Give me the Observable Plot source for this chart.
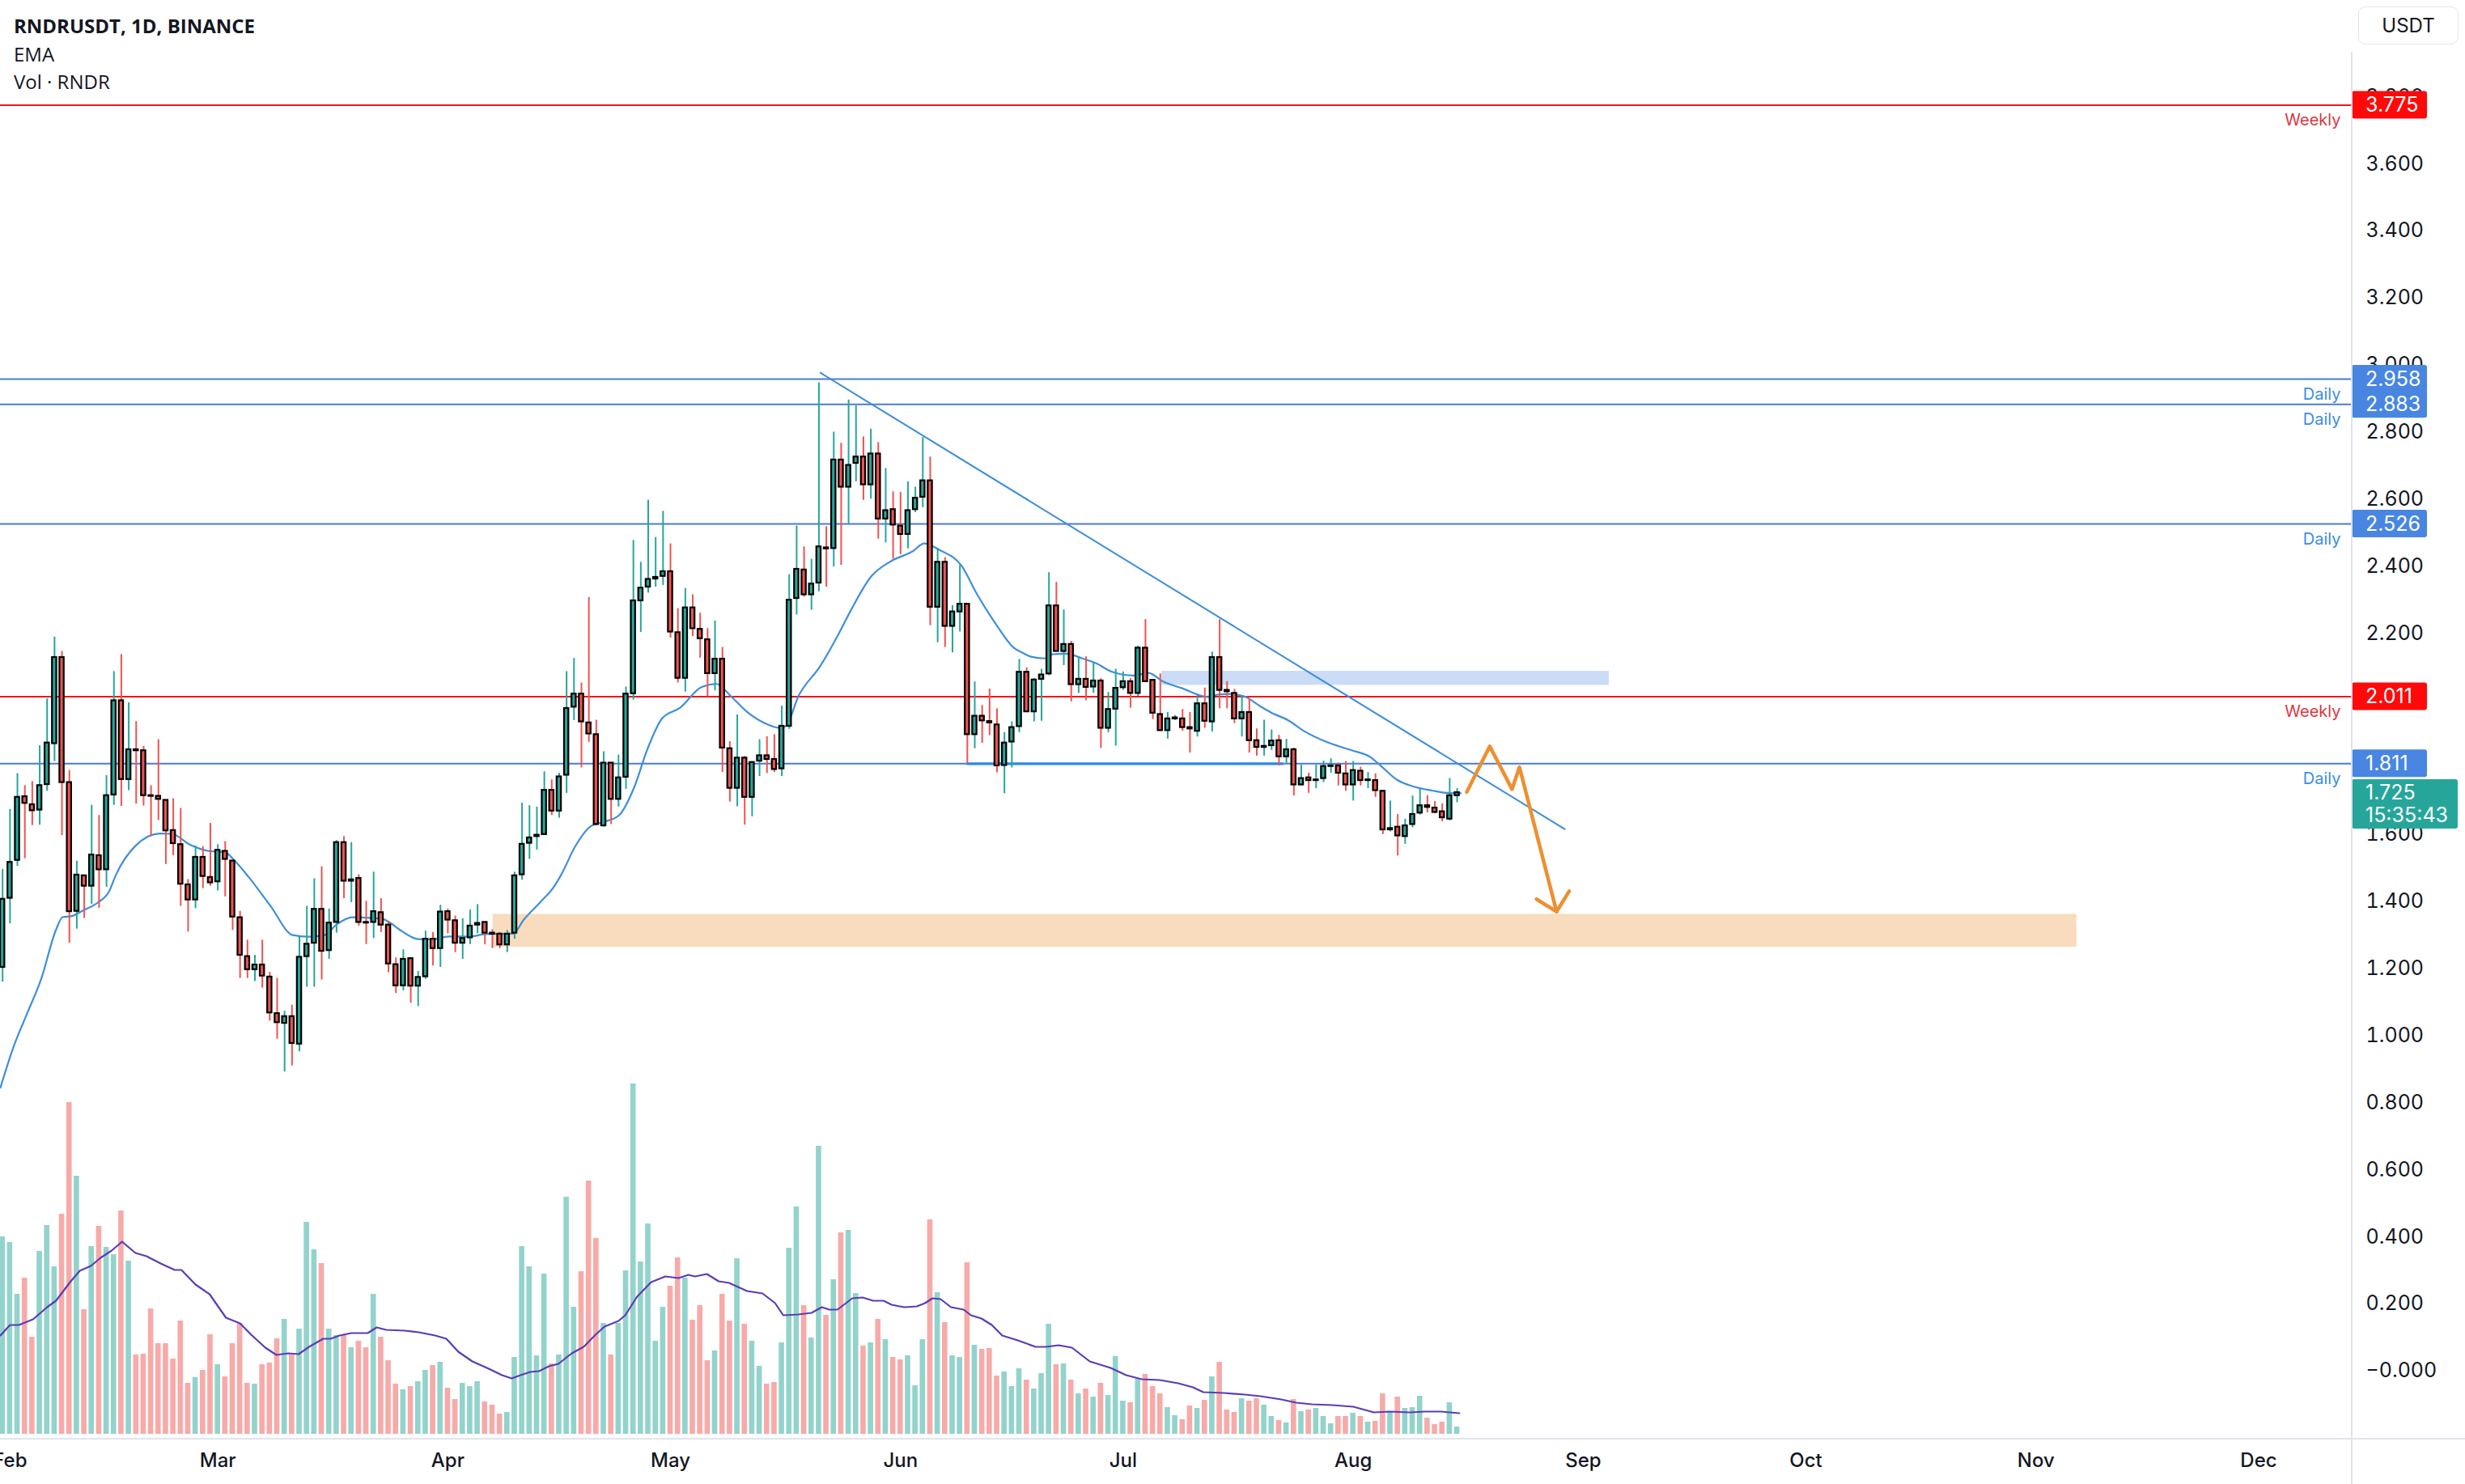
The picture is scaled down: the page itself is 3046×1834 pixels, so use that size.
<!DOCTYPE html>
<html><head><meta charset="utf-8">
<script src="https://cdn.jsdelivr.net/npm/d3@7"></script>
<script src="https://cdn.jsdelivr.net/npm/@observablehq/plot@0.6"></script>
<style>
html,body{margin:0;padding:0;background:#fff;}
#wrap{position:relative;width:3046px;height:1834px;overflow:hidden;background:#fff;}
#wrap svg{position:absolute;left:0;top:0;}
.hdr{position:absolute;left:17px;color:#131722;font-family:"Open Sans",sans-serif;font-size:24px;line-height:1;white-space:nowrap;}
.sep{position:absolute;background:#e0e3eb;}
#usdt{position:absolute;left:2914px;top:8px;width:122px;height:45px;border:1.5px solid #e3e5ea;border-radius:9px;font-family:Inter,sans-serif;font-size:24px;color:#131722;display:flex;align-items:center;justify-content:center;}
</style></head><body>
<div id="wrap"></div>
<script>
// ---------------- DATA ----------------
const startDate = "2023-01-31"; // first daily candle, one candle per day
const open = [
1.204,1.410,1.523,1.713,1.689,1.673,1.749,1.871,2.128,1.755,
1.371,1.477,1.446,1.537,1.495,1.718,1.999,1.764,1.853,1.850,
1.716,1.714,1.702,1.612,1.570,1.450,1.405,1.532,1.472,1.459,
1.550,1.521,1.352,1.236,1.197,1.211,1.175,1.066,1.037,1.057,
0.975,1.236,1.276,1.377,1.254,1.338,1.576,1.461,1.469,1.338,
1.338,1.367,1.330,1.212,1.149,1.230,1.148,1.176,1.288,1.260,
1.370,1.343,1.276,1.292,1.330,1.338,1.306,1.303,1.271,1.306,
1.480,1.574,1.594,1.600,1.732,1.670,1.777,1.980,2.019,1.933,
1.898,1.626,1.813,1.705,1.771,2.020,2.297,2.338,2.362,2.370,
2.384,2.202,2.066,2.276,2.212,2.181,2.080,2.123,1.856,1.738,
1.828,1.711,1.819,1.835,1.824,1.796,1.923,2.304,2.389,2.315,
2.350,2.455,2.453,2.717,2.636,2.707,2.726,2.643,2.735,2.541,
2.569,2.520,2.495,2.569,2.606,2.655,2.278,2.412,2.221,2.264,
2.287,1.898,1.953,1.937,1.927,1.806,1.876,1.922,2.084,1.966,
2.063,2.079,2.282,2.146,2.167,2.047,2.063,2.040,2.058,1.917,
1.974,2.038,2.056,2.021,2.156,2.060,1.958,1.910,1.945,1.945,
1.919,1.908,1.990,1.936,2.128,2.030,2.021,1.945,1.964,1.880,
1.860,1.865,1.880,1.832,1.853,1.748,1.769,1.761,1.767,1.803,
1.805,1.781,1.748,1.789,1.761,1.761,1.729,1.614,1.622,1.594,
1.630,1.664,1.686,1.679,1.668,1.646,1.716];
const high = [
1.496,1.675,1.782,1.746,1.758,1.865,2.005,2.189,2.146,1.791,
1.521,1.477,1.687,1.657,1.776,2.086,2.137,1.993,1.937,1.863,
1.746,1.883,1.702,1.707,1.678,1.466,1.566,1.564,1.633,1.570,
1.579,1.521,1.371,1.285,1.240,1.285,1.189,1.171,1.073,1.091,
1.294,1.386,1.468,1.504,1.378,1.582,1.594,1.576,1.480,1.401,
1.488,1.409,1.341,1.232,1.256,1.230,1.192,1.312,1.308,1.389,
1.378,1.357,1.349,1.375,1.391,1.338,1.316,1.308,1.314,1.488,
1.694,1.686,1.682,1.787,1.763,1.783,2.086,2.125,2.052,2.307,
1.941,1.847,1.813,1.837,2.040,2.477,2.412,2.597,2.486,2.564,
2.467,2.274,2.334,2.315,2.260,2.214,2.237,2.158,1.877,1.957,
1.833,1.817,1.883,1.892,1.898,1.983,2.375,2.520,2.458,2.421,
2.947,2.518,2.800,2.767,2.896,2.878,2.786,2.809,2.769,2.692,
2.622,2.620,2.652,2.636,2.784,2.726,2.454,2.426,2.283,2.403,
2.287,2.055,1.985,2.034,1.975,1.904,1.936,2.122,2.097,2.065,
2.093,2.381,2.352,2.270,2.176,2.125,2.130,2.111,2.065,2.024,
2.093,2.085,2.065,2.162,2.241,2.060,2.079,1.964,1.955,1.973,
1.964,2.014,2.037,2.144,2.241,2.056,2.033,2.014,2.005,1.915,
1.941,1.912,1.896,1.884,1.858,1.807,1.783,1.807,1.819,1.826,
1.813,1.818,1.818,1.801,1.785,1.781,1.731,1.700,1.660,1.646,
1.715,1.735,1.716,1.698,1.692,1.767,1.737];
const low = [
1.160,1.334,1.505,1.528,1.627,1.628,1.729,1.818,1.597,1.276,
1.318,1.350,1.392,1.380,1.443,1.687,1.684,1.731,1.691,1.685,
1.595,1.642,1.511,1.537,1.386,1.309,1.379,1.439,1.446,1.432,
1.414,1.314,1.171,1.171,1.162,1.142,1.044,0.990,0.892,0.910,
0.952,1.145,1.145,1.166,1.228,1.306,1.409,1.397,1.327,1.272,
1.290,1.308,1.188,1.126,1.134,1.097,1.087,1.168,1.208,1.204,
1.304,1.248,1.228,1.272,1.304,1.271,1.260,1.260,1.248,1.288,
1.464,1.526,1.554,1.598,1.657,1.649,1.723,1.940,1.799,1.875,
1.626,1.622,1.630,1.682,1.735,2.001,2.203,2.320,2.338,2.343,
2.186,2.052,2.025,2.191,2.126,2.011,2.029,1.785,1.697,1.683,
1.628,1.653,1.773,1.782,1.785,1.773,1.914,2.255,2.308,2.269,
2.324,2.338,2.398,2.403,2.527,2.652,2.597,2.600,2.481,2.470,
2.421,2.435,2.452,2.560,2.575,2.223,2.172,2.158,2.142,2.204,
1.812,1.856,1.872,1.895,1.784,1.722,1.799,1.904,1.966,1.936,
1.938,2.074,2.146,2.104,1.996,2.021,1.999,2.021,1.857,1.904,
1.864,2.030,1.977,2.012,2.054,1.943,1.908,1.885,1.940,1.908,
1.843,1.891,1.917,1.906,1.975,1.975,1.931,1.891,1.843,1.834,
1.834,1.851,1.805,1.811,1.715,1.745,1.723,1.737,1.755,1.783,
1.745,1.729,1.700,1.745,1.737,1.711,1.600,1.608,1.536,1.571,
1.620,1.658,1.665,1.662,1.638,1.641,1.695];
const close = [
1.407,1.517,1.711,1.693,1.671,1.746,1.873,2.128,1.755,1.370,
1.479,1.446,1.539,1.495,1.716,1.999,1.764,1.853,1.850,1.716,
1.714,1.705,1.611,1.573,1.452,1.405,1.532,1.475,1.456,1.553,
1.526,1.354,1.240,1.197,1.211,1.178,1.068,1.039,1.057,0.977,
1.234,1.273,1.377,1.252,1.336,1.576,1.461,1.465,1.338,1.336,
1.370,1.330,1.214,1.149,1.228,1.148,1.174,1.288,1.260,1.369,
1.345,1.276,1.290,1.327,1.335,1.306,1.303,1.271,1.303,1.477,
1.571,1.590,1.598,1.732,1.670,1.772,1.976,2.019,1.936,1.900,
1.630,1.813,1.705,1.769,2.019,2.297,2.335,2.361,2.367,2.384,
2.204,2.066,2.276,2.214,2.184,2.080,2.123,1.858,1.738,1.828,
1.711,1.815,1.835,1.824,1.794,1.923,2.299,2.391,2.315,2.347,
2.458,2.452,2.717,2.636,2.701,2.726,2.643,2.735,2.541,2.566,
2.523,2.495,2.566,2.603,2.655,2.278,2.412,2.221,2.264,2.287,
1.898,1.953,1.939,1.933,1.805,1.873,1.919,2.084,1.966,2.061,
2.076,2.282,2.146,2.167,2.047,2.063,2.039,2.058,1.917,1.973,
2.036,2.056,2.021,2.156,2.056,1.962,1.910,1.945,1.948,1.919,
1.915,1.990,1.938,2.128,2.030,2.026,1.945,1.964,1.880,1.860,
1.863,1.879,1.832,1.853,1.748,1.767,1.761,1.763,1.803,1.805,
1.783,1.748,1.791,1.761,1.763,1.731,1.614,1.618,1.596,1.626,
1.660,1.686,1.681,1.666,1.650,1.716,1.725];
// volume (relative units)
const volume = [
24.4,23.7,17.3,19.3,12.0,22.6,25.8,20.7,27.2,41.0,
31.9,15.4,23.2,25.7,23.1,22.2,27.6,21.4,9.8,9.9,
15.5,11.2,11.2,9.3,14.0,6.3,7.0,7.9,12.3,8.6,
7.1,11.2,13.7,6.3,6.2,8.6,8.8,11.8,14.2,9.8,
13.0,26.2,22.8,21.1,13.0,12.2,12.2,10.7,11.5,10.7,
17.3,12.0,9.1,6.2,5.5,5.9,6.5,7.9,8.5,8.9,
5.7,4.3,6.3,5.9,6.5,4.0,3.6,2.5,2.7,9.5,
23.2,20.7,9.7,19.8,8.7,9.8,29.3,15.7,20.1,31.3,
24.2,13.7,9.8,13.7,20.2,43.3,21.3,26.0,11.5,15.7,
18.3,21.8,19.3,14.1,15.9,9.1,10.3,17.3,14.0,21.7,
13.6,11.5,8.4,6.2,6.4,11.3,23.0,28.1,15.9,11.9,
35.6,14.7,19.1,24.9,25.2,17.4,10.9,11.3,14.2,11.7,
9.5,9.2,9.7,6.0,11.7,26.5,17.5,13.8,9.7,9.5,
21.2,11.0,10.5,10.6,7.2,7.7,5.9,8.1,6.7,5.6,
7.5,13.6,8.6,8.7,6.7,5.0,5.6,4.6,6.3,4.8,
9.6,4.1,3.9,6.8,7.4,5.9,5.0,3.3,2.3,1.8,
3.5,3.2,4.2,7.1,8.9,3.0,2.7,4.4,4.1,4.4,
3.6,2.2,1.7,1.4,4.3,2.8,3.0,3.2,2.2,1.3,
2.2,2.2,2.6,2.2,1.5,1.6,5.0,2.7,4.6,3.2,
3.3,4.7,2.0,1.2,1.5,3.9,0.9];
// EMA line samples: day offset from startDate, value
const emaDay = [-0.29,1.5,3.3,5.2,7.2,8.1,9.2,10.9,12.9,14.3,15.3,17.9,21.2,22.8,25.2,28.1,29.9,31.3,33.2,36.1,39.1,41.2,43.3,45.1,47.1,51.1,52.2,53.5,56.0,57.9,60.1,63.0,65.1,68.8,70.2,72.4,74.2,75.3,77.1,79.3,81.1,83.1,85.1,86.9,88.9,91.3,94.2,96.2,98.2,100.4,103.2,104.6,105.5,107.3,110.2,112.7,114.2,117.1,119.7,122.6,124.2,126.2,129.2,131.3,133.8,136.2,137.7,138.6,140.4,141.3,143.3,145.5,147.3,149.5,152.4,154.4,156.4,159.3,161.5,162.4,163.7,165.5,167.3,169.5,170.9,173.2,175.4,178.5,181.8,184.3,185.8,187.9,190.1,192.6,194.7,196.5];
const emaValue = [0.845,0.968,1.066,1.169,1.316,1.354,1.356,1.374,1.398,1.428,1.481,1.566,1.603,1.602,1.570,1.550,1.548,1.521,1.472,1.387,1.300,1.295,1.299,1.333,1.353,1.349,1.337,1.316,1.288,1.287,1.296,1.296,1.303,1.304,1.345,1.397,1.441,1.481,1.562,1.625,1.638,1.658,1.740,1.855,1.947,1.978,2.040,2.049,2.011,1.964,1.927,1.918,1.923,2.015,2.103,2.200,2.264,2.371,2.415,2.444,2.468,2.449,2.402,2.317,2.229,2.158,2.139,2.130,2.125,2.137,2.139,2.125,2.111,2.085,2.074,2.082,2.056,2.033,2.014,2.010,2.017,2.019,2.012,1.982,1.964,1.941,1.908,1.875,1.851,1.831,1.803,1.763,1.743,1.731,1.724,1.723];
// Volume moving average samples
const volMaDay = [-0.3,1,2.2,4.1,6,7.2,9.1,10.4,11.9,13.2,14.7,16.1,17.9,19.4,21.3,23.2,24.1,26,27.9,30.1,32,33.5,35.4,36.9,38.5,39.9,41.3,43.2,44.2,45.4,47,49.2,50.4,51.7,54.2,56.1,58.3,59.8,61.4,63.3,65.5,67.3,68.6,69.8,71.1,72.3,73.6,74.9,76.7,78.3,79.9,81.1,83,83.9,85.5,87.4,89.3,91.1,92.4,93.3,94.9,96.5,97.9,100.3,102.4,104.1,105.2,107.2,109,110.4,111.4,112.5,114.5,115.9,117.3,118.7,119.8,121.5,123.2,124.3,125.3,126.4,127.8,129.5,130.5,131.9,133.3,134.7,136.8,139.2,140.6,142.3,144.1,146.5,149.3,151.4,153.5,155.9,158.4,160.4,161.8,164.6,167.4,169.5,172.3,174.3,176.4,179.2,182,184.8,186.9,189.6,191.7,193.8,196.3];
const volMaValue = [12.2,13.5,13.5,14.2,15.7,16.5,18.8,20.2,20.8,21.8,22.7,23.8,22.4,22.0,21.1,20.3,20.3,18.5,17.3,14.4,13.7,12.3,10.7,9.8,10.0,9.9,10.8,11.8,11.8,12.2,12.5,12.5,13.2,12.9,12.8,12.6,12.2,11.8,10.2,9.0,8.1,7.3,6.9,7.3,7.7,7.8,8.4,8.7,10.0,10.8,12.3,13.3,14.0,14.7,17.0,18.8,19.5,19.3,19.7,19.5,19.8,18.9,18.7,17.7,17.4,16.2,14.7,14.8,15.0,15.7,15.4,15.4,16.8,16.9,16.5,16.5,16.0,15.7,15.8,16.2,16.8,16.7,15.7,15.4,14.7,14.3,13.5,12.2,11.6,10.8,10.8,11.0,10.7,9.0,8.2,7.3,6.8,6.7,6.3,5.8,5.2,5.1,4.9,4.7,4.3,3.9,3.7,3.6,3.4,2.7,2.8,2.7,2.8,2.8,2.6];
// Horizontal levels
const levelValue = [3.775, 2.958, 2.883, 2.526, 2.011, 1.811];
const levelTimeframe = ["Weekly","Daily","Daily","Daily","Weekly","Daily"];
// Zones (day offsets and prices)
const zoneFrom = [66.1, 156.2];
const zoneTo = [279.5, 216.5];
const zoneLow = [1.264, 2.045];
const zoneHigh = [1.362, 2.087];
// Drawn lines: descending trendline, flat support, projected path, arrow head
const trendDay = [110.2, 210.5], trendValue = [2.977, 1.616];
const supportDay = [130.0, 172.5], supportValue = [1.811, 1.811];
const pathDay = [197.3, 200.4, 203.4, 204.4, 209.4], pathValue = [1.727, 1.863, 1.735, 1.801, 1.370];
const headDay = [206.7, 209.4, 211.1], headValue = [1.407, 1.370, 1.431];
// Axis ticks (2.000 and 1.800 sit fully behind the level boxes and are not shown)
const priceTicks = [0,0.2,0.4,0.6,0.8,1.0,1.2,1.4,1.6,2.2,2.4,2.6,2.8,3.0,3.2,3.4,3.6,3.8];
const monthTicks = ["2023-02-01","2023-03-01","2023-04-01","2023-05-01","2023-06-01","2023-07-01","2023-08-01","2023-09-01","2023-10-01","2023-11-01","2023-12-01"];
const lastPrice = 1.725, countdown = "15:35:43";

// ---------------- CHART ----------------
const FONT = "Inter, 'Noto Sans', sans-serif";
const W = 3046, H = 1834, AXIS_X = 2906, AXIS_Y = 1778, VOL_BASE = 1772;
const DAY = 86400000;
const base = Date.parse(startDate + "T00:00:00Z");
const day = i => new Date(base + i * DAY);
const xDomain = [day(-0.294), day(316.6)];
const yDomain = [-0.2031, 4.0875];
const UP = "#26a69a", DOWN = "#ef5350";
const VUP = "#92d3cc", VDOWN = "#f7aaa8";
const RED_LINE = "#f2141c", BLUE_LINE = "#4a7dcc";

const candles = open.map((o, i) => ({i, date: day(i), open: o, high: high[i], low: low[i], close: close[i], volume: volume[i], up: close[i] >= o}));
const ema = emaDay.map((d, i) => ({date: day(d), value: emaValue[i]}));
const volMa = volMaDay.map((d, i) => ({date: day(d), value: volMaValue[i]}));
const levels = levelValue.map((v, i) => ({value: v, tf: levelTimeframe[i], weekly: levelTimeframe[i] === "Weekly"}));
const zones = zoneFrom.map((f, i) => ({from: day(f), to: day(zoneTo[i]), low: zoneLow[i], high: zoneHigh[i], fill: i === 0 ? "#f9dcbd" : "#cadcf6"}));
const pts = (ds, vs) => ds.map((d, i) => ({date: day(d), value: vs[i]}));

const volPlot = Plot.plot({
  width: W, height: H,
  marginLeft: 0, marginRight: W - AXIS_X, marginTop: 0, marginBottom: H - VOL_BASE,
  x: {type: "utc", domain: xDomain, axis: null},
  y: {domain: [0, VOL_BASE / 10], axis: null},
  color: {type: "identity"},
  style: {background: "transparent"},
  marks: [
    Plot.rect(candles, {x1: d => day(d.i - 0.36), x2: d => day(d.i + 0.36), y1: d => 0, y2: "volume", fill: d => d.up ? VUP : VDOWN}),
    Plot.line(volMa, {x: "date", y: "value", stroke: "#5a3cb6", strokeWidth: 2.2})
  ]
});

const pricePlot = Plot.plot({
  width: W, height: H,
  marginLeft: 0, marginRight: W - AXIS_X, marginTop: 0, marginBottom: H - AXIS_Y,
  x: {type: "utc", domain: xDomain},
  y: {domain: yDomain},
  color: {type: "identity"},
  style: {background: "transparent", fontFamily: FONT, fontSize: "25px", color: "#131722"},
  marks: [
    Plot.rect(zones, {x1: "from", x2: "to", y1: "low", y2: "high", fill: "fill"}),
    Plot.ruleY(levels, {y: "value", stroke: d => d.weekly ? RED_LINE : BLUE_LINE, strokeWidth: 2}),
    Plot.text(levels, {y: "value", text: "tf", frameAnchor: "right", dx: -14, dy: 19, textAnchor: "end", fontSize: 20, fill: d => d.weekly ? "#e0353f" : "#3a8ee6"}),
    Plot.line(pts(supportDay, supportValue), {x: "date", y: "value", stroke: "#2f8ae3", strokeWidth: 3.2}),
    Plot.line(pts(trendDay, trendValue), {x: "date", y: "value", stroke: "#3a8cdc", strokeWidth: 2}),
    Plot.line(ema, {x: "date", y: "value", stroke: "#3d8fdc", strokeWidth: 2.2, curve: "monotone-x"}),
    Plot.ruleX(candles, {x: "date", y1: "low", y2: "high", stroke: d => d.up ? UP : DOWN, strokeWidth: 2}),
    Plot.rect(candles, {x1: d => day(d.i - 0.29), x2: d => day(d.i + 0.29), y1: "open", y2: "close", fill: d => d.up ? UP : DOWN, stroke: "#000", strokeWidth: 2.2}),
    Plot.line(pts(pathDay, pathValue), {x: "date", y: "value", stroke: "#ee8f2f", strokeWidth: 4.5, strokeLinejoin: "round", strokeLinecap: "round"}),
    Plot.line(pts(headDay, headValue), {x: "date", y: "value", stroke: "#ee8f2f", strokeWidth: 4.5, strokeLinejoin: "round", strokeLinecap: "round"}),
    Plot.axisY({anchor: "right", ticks: priceTicks, tickSize: 0, tickPadding: 17, label: null,
      tickFormat: d => d === 0 ? "\u22120.000" : d.toFixed(3)}),
    Plot.axisX({anchor: "bottom", ticks: monthTicks.map(s => new Date(s + "T00:00:00Z")), tickSize: 0, tickPadding: 17, label: null,
      tickFormat: d3.utcFormat("%b"), fontSize: 24, fontWeight: 500})
  ]
});

// price label boxes on the right axis, positioned with the plot's own y scale
const ys = pricePlot.scale("y");
const g = d3.select(pricePlot).append("g").attr("font-family", FONT).attr("font-size", 25).attr("text-anchor", "start");
const boxOrder = [0, 2, 1, 3, 4, 5];
for (const k of boxOrder) {
  const lv = levels[k];
  const y = ys.apply(lv.value);
  g.append("rect").attr("x", AXIS_X).attr("y", y - 17).attr("width", 93).attr("height", 34).attr("rx", 3)
    .attr("fill", lv.weekly ? "#ff0a0a" : "#4886e2");
  g.append("text").attr("x", AXIS_X + 17).attr("y", y).attr("dy", "0.36em").attr("text-anchor", "start").attr("fill", "#fff").text(lv.value.toFixed(3));
}
{
  const y = ys.apply(lastPrice);
  g.append("rect").attr("x", AXIS_X).attr("y", y - 16).attr("width", 131).attr("height", 61).attr("rx", 3).attr("fill", "#26a69a");
  g.append("text").attr("x", AXIS_X + 17).attr("y", y).attr("dy", "0.36em").attr("text-anchor", "start").attr("fill", "#fff").text(lastPrice.toFixed(3));
  g.append("text").attr("x", AXIS_X + 17).attr("y", y + 28).attr("dy", "0.36em").attr("text-anchor", "start").attr("fill", "#fff").text(countdown);
}

const wrap = document.getElementById("wrap");
wrap.appendChild(volPlot);
wrap.appendChild(pricePlot);

function addDiv(cls, css, text) {
  const d = document.createElement("div");
  d.className = cls; d.style.cssText = css; if (text) d.textContent = text;
  wrap.appendChild(d); return d;
}
addDiv("sep", `left:${AXIS_X - 1}px;top:64px;width:2px;height:${H - 64}px;`);
addDiv("sep", `left:0;top:${AXIS_Y - 1}px;width:${W}px;height:2px;`);
addDiv("hdr", "top:20px;font-weight:700;", "RNDRUSDT, 1D, BINANCE");
addDiv("hdr", "top:55px;", "EMA");
addDiv("hdr", "top:89px;", "Vol \u00b7 RNDR");
const u = document.createElement("div"); u.id = "usdt"; u.textContent = "USDT"; wrap.appendChild(u);
</script>
</body></html>
